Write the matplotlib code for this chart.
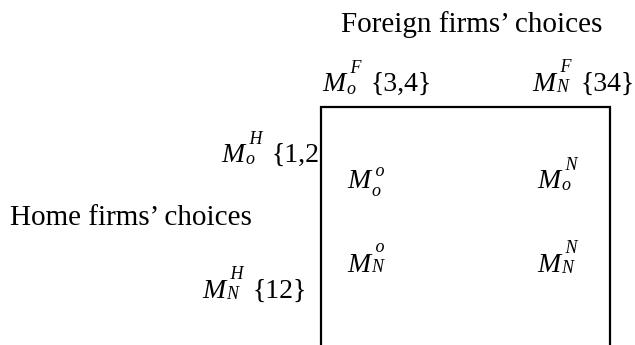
import matplotlib.pyplot as plt
from matplotlib.font_manager import FontProperties

plt.rcParams['font.family'] = 'Liberation Serif'

# Axis titles
col_title = "Foreign firms\u2019 choices"
row_title = "Home firms\u2019 choices"

# Strategy labels: (subscript, superscript, set of payoffs)
col_labels = [("o", "F", "{3,4}"), ("N", "F", "{34}")]
row_labels = [("o", "H", "{1,2"), ("N", "H", "{12}")]

# Cell entries, row by row: (subscript, superscript)
cells = [[("o", "o"), ("o", "N")],
         [("N", "o"), ("N", "N")]]

# layout in pixel units (origin top-left)
W, H = 635, 345
box_left, box_right, box_top = 321, 610, 107
col_x = [322, 532]
col_y = 91
row_x = [221, 202]
row_y = [162, 298]
cell_x = [347, 537]
cell_y = [188, 272]
fs_title = 21
fs = 20
fs_small = 13
# baseline offsets of (superscript, subscript) from the M baseline
stack_dy = {("N", True): (-15, 1), ("N", False): (-16, 0),
            ("o", True): (-14, 2.5), ("o", False): (-8, 8)}

fig = plt.figure(figsize=(W / 100, H / 100), dpi=100)
ax = fig.add_axes([0, 0, 1, 1])
ax.set_xlim(0, W)
ax.set_ylim(H, 0)
ax.axis('off')
renderer = fig.canvas.get_renderer()

small_prop = FontProperties(family='Liberation Serif', style='italic', size=fs_small)
_, lp_h, lp_d = renderer.get_text_width_height_descent("lp", small_prop, ismath=False)

# how many pixels one unit of linespacing moves the second line
_heights = []
for _ls in (1.0, 2.0):
    _t = ax.text(0, 0, "F\nN", fontproperties=small_prop, linespacing=_ls)
    _heights.append(_t.get_window_extent(renderer).height)
    _t.remove()
px_per_ls = _heights[1] - _heights[0]


def m_label(x, y, sub, sup, tail=None):
    ax.text(x, y, "M", fontsize=fs, style='italic', va='baseline')
    sup_dy, sub_dy = stack_dy[(sub, sup.isupper())]
    # superscript over subscript as one two-line text
    st = ax.text(x + 24, y + sub_dy + lp_d, " " + sup + "\n" + sub,
                 fontproperties=small_prop, va='bottom', ha='left',
                 multialignment='left',
                 linespacing=(sub_dy - sup_dy) / px_per_ls)
    if tail:
        x3 = st.get_window_extent(renderer).x1 + 9
        ax.text(x3, y, tail, fontsize=fs, va='baseline')


# the box (open at the bottom, runs off the page)
ax.plot([box_left, box_left, box_right, box_right], [H + 5, box_top, box_top, H + 5],
        color='black', linewidth=1.6, solid_joinstyle='miter', clip_on=False)

ax.text(472, 32, col_title, fontsize=fs_title, ha='center', va='baseline')
ax.text(10, 225, row_title, fontsize=fs_title, ha='left', va='baseline')

for x, (sub, sup, tail) in zip(col_x, col_labels):
    m_label(x, col_y, sub, sup, tail)

for x, y, (sub, sup, tail) in zip(row_x, row_y, row_labels):
    m_label(x, y, sub, sup, tail)

for i, row in enumerate(cells):
    for j, (sub, sup) in enumerate(row):
        m_label(cell_x[j], cell_y[i], sub, sup)

plt.savefig('out.png', dpi=100)
